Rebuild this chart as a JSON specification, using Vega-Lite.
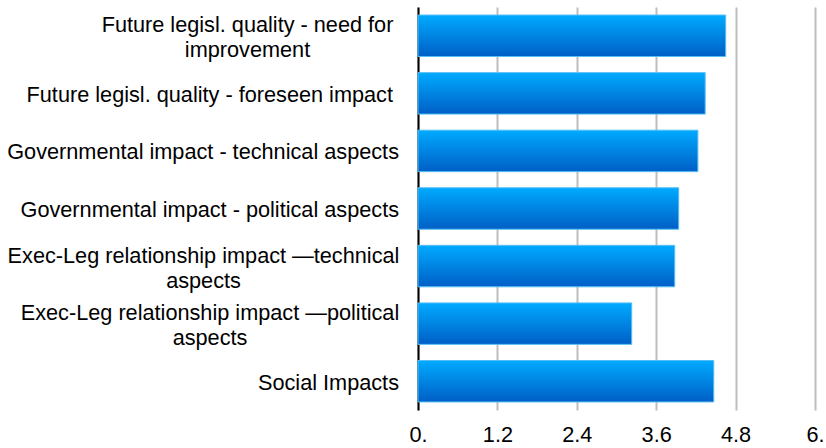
{
  "$schema": "https://vega.github.io/schema/vega-lite/v6.json",
  "autosize": "none",
  "width": 397,
  "height": 403,
  "padding": {"left": 418, "top": 7, "right": 11, "bottom": 38},
  "background": "white",
  "data": {
    "values": [
      {"category": "Future legisl. quality - need for|improvement", "value": 4.65},
      {"category": "Future legisl. quality - foreseen impact", "value": 4.34},
      {"category": "Governmental impact - technical aspects", "value": 4.23},
      {"category": "Governmental impact - political aspects", "value": 3.94},
      {"category": "Exec-Leg relationship impact —technical|aspects", "value": 3.88},
      {"category": "Exec-Leg relationship impact —political|aspects", "value": 3.23},
      {"category": "Social Impacts", "value": 4.47}
    ]
  },
  "mark": {
    "type": "bar",
    "color": {
      "gradient": "linear",
      "x1": 0, "y1": 0, "x2": 0, "y2": 1,
      "stops": [
        {"offset": 0, "color": "#00AAFF"},
        {"offset": 1, "color": "#005FC6"}
      ]
    },
    "stroke": "#55BEF5",
    "strokeWidth": 1
  },
  "encoding": {
    "y": {
      "field": "category",
      "type": "nominal",
      "sort": null,
      "title": null,
      "scale": {"paddingInner": 0.28, "paddingOuter": 0.14},
      "axis": {
        "domain": true,
        "domainColor": "#000000",
        "domainWidth": 2,
        "ticks": false,
        "grid": false,
        "labelExpr": "split(datum.value, '|')",
        "labelFont": "Liberation Sans",
        "labelFontSize": 21.7,
        "labelColor": "#000000",
        "labelLineHeight": 25,
        "labelLimit": 0,
        "labelAlign": {
          "condition": {"test": "indexof(datum.value, '|') >= 0", "value": "center"},
          "value": "right"
        },
        "labelOffset": {
          "condition": {"test": "indexof(datum.value, '|') >= 0", "value": -10.5},
          "value": 1.5
        },
        "labelPadding": {
          "condition": [
            {"test": "datum.value == 'Future legisl. quality - need for|improvement'", "value": 171},
            {"test": "datum.value == 'Exec-Leg relationship impact —technical|aspects'", "value": 215},
            {"test": "datum.value == 'Exec-Leg relationship impact —political|aspects'", "value": 208.5},
            {"test": "datum.value == 'Future legisl. quality - foreseen impact'", "value": 25.5}
          ],
          "value": 19.5
        }
      }
    },
    "x": {
      "field": "value",
      "type": "quantitative",
      "title": null,
      "scale": {"domain": [0, 6], "nice": false, "zero": true},
      "axis": {
        "values": [0, 1.2, 2.4, 3.6, 4.8, 6],
        "labelExpr": "datum.value % 1 == 0 ? datum.value + '.' : format(datum.value, '.1f')",
        "domain": false,
        "ticks": false,
        "grid": true,
        "gridColor": "#BEBEBE",
        "gridWidth": 2,
        "labelFont": "Liberation Sans",
        "labelFontSize": 21.7,
        "labelColor": "#000000",
        "labelPadding": 14,
        "labelFlush": false
      }
    }
  },
  "config": {
    "view": {"stroke": null}
  }
}
